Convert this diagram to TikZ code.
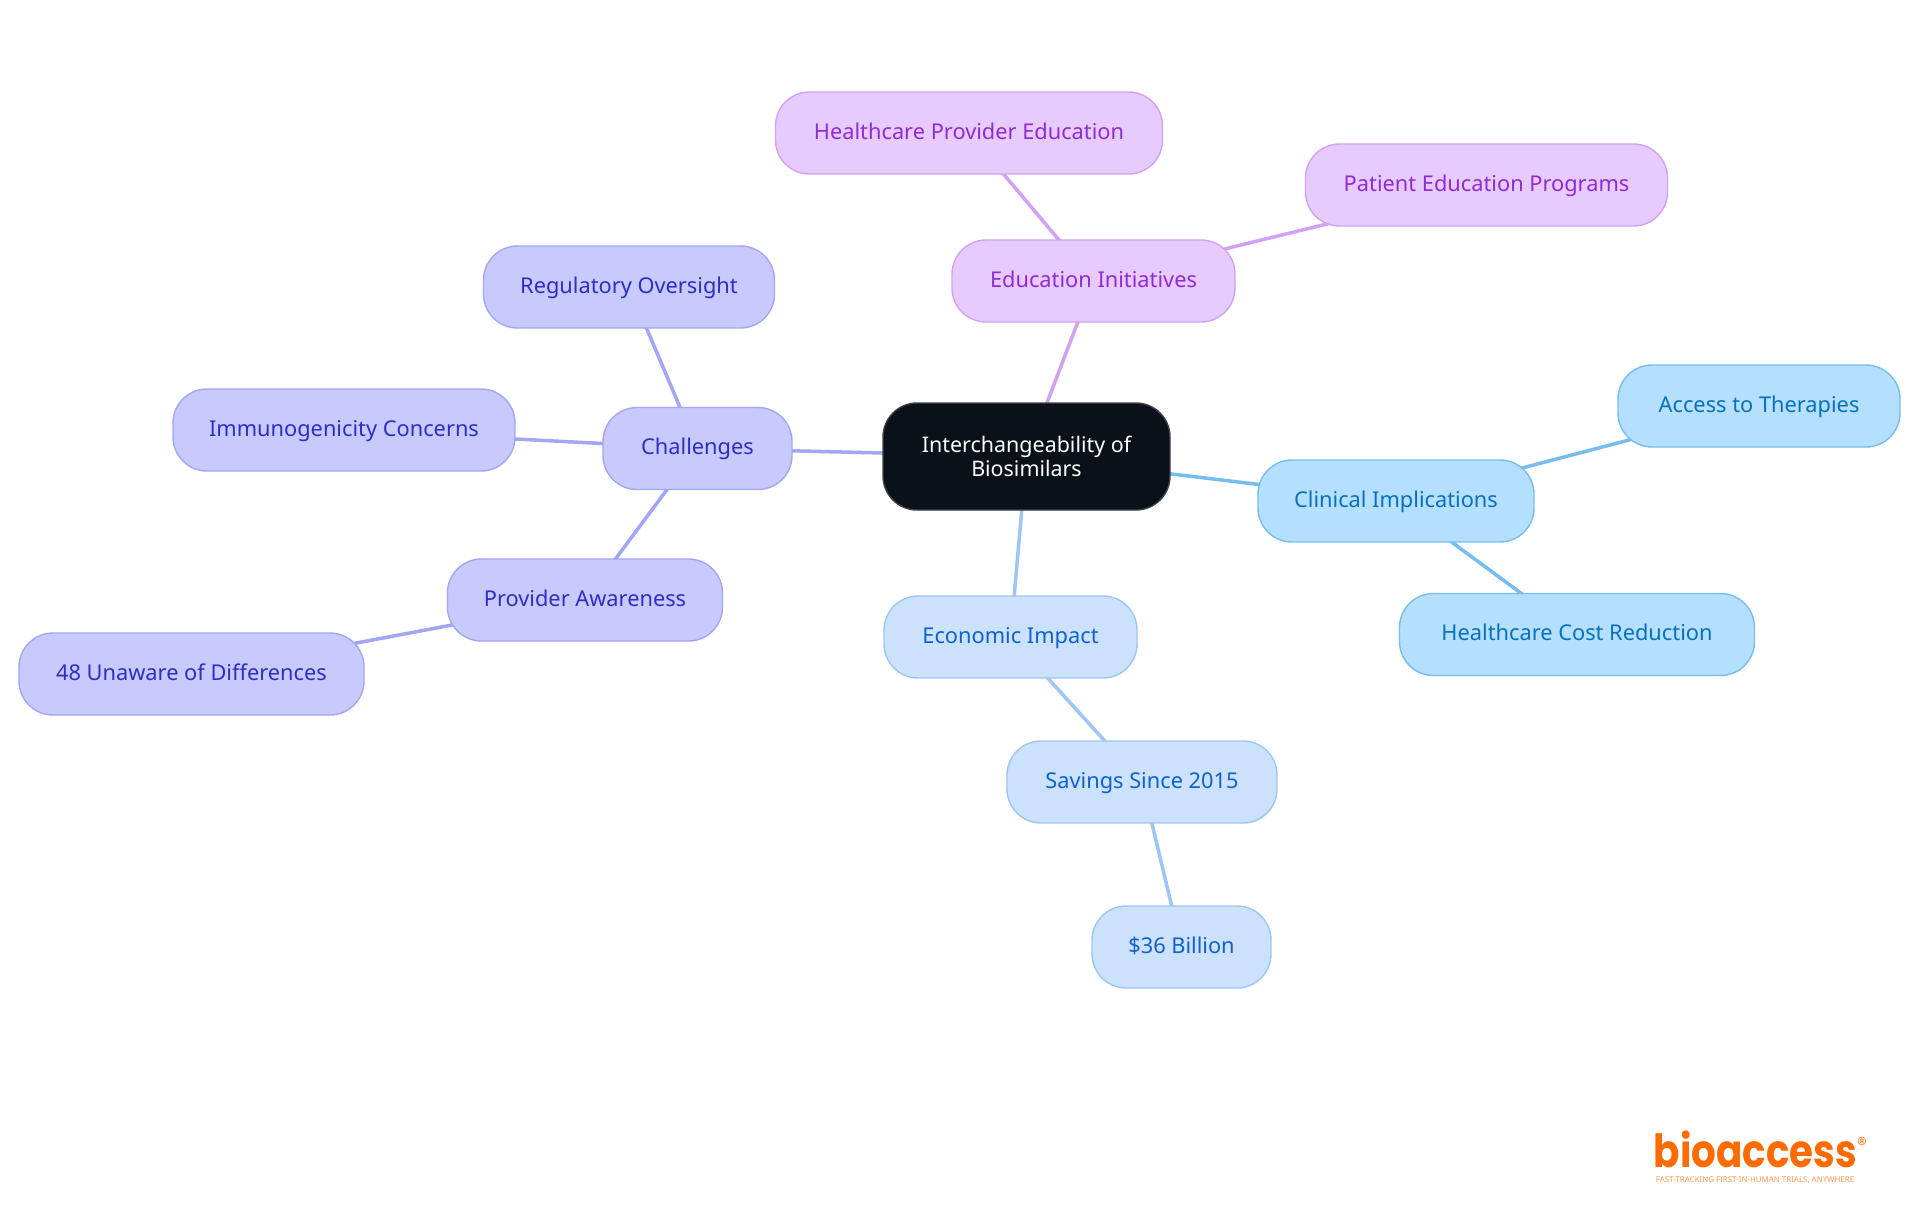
\documentclass[tikz,border=0pt]{standalone}
\usepackage{fontspec}
\setmainfont{Noto Sans}
\newfontfamily\logofont{Poppins}[FakeStretch=0.85]
\usetikzlibrary{backgrounds}

\definecolor{rootfill}{HTML}{0B1119}
\definecolor{violetfill}{HTML}{C8CAFD}
\definecolor{violetline}{HTML}{A3A5F5}
\definecolor{violettext}{HTML}{2F2DC6}
\definecolor{purplefill}{HTML}{E8CBFE}
\definecolor{purpleline}{HTML}{CFA2F3}
\definecolor{purpletext}{HTML}{8F2BD6}
\definecolor{bluefill}{HTML}{CCE2FC}
\definecolor{blueline}{HTML}{9FC6F2}
\definecolor{bluetext}{HTML}{0F62CE}
\definecolor{skyfill}{HTML}{B5DFFE}
\definecolor{skyline}{HTML}{77BDF0}
\definecolor{skytext}{HTML}{0871BE}
\definecolor{logoorange}{HTML}{FF6B00}

\tikzset{
	box/.style={draw, rectangle, rounded corners=0.34cm, line width=0.4pt, minimum height=0.82cm, inner sep=0pt, align=center, font=\fontsize{6.2}{7}\selectfont},
	rootbox/.style={box, fill=rootfill, draw=rootfill!80!white, text=white, minimum height=1.07cm, font=\fontsize{6.1}{6.7}\selectfont},
	leafbox/.style={box, text height=1.7mm, text depth=0.5mm},
	violetbox/.style={leafbox, fill=violetfill, draw=violetline, text=violettext},
	purplebox/.style={leafbox, fill=purplefill, draw=purpleline, text=purpletext},
	bluebox/.style={leafbox, fill=bluefill, draw=blueline, text=bluetext},
	skybox/.style={leafbox, fill=skyfill, draw=skyline, text=skytext},
	link/.style={line width=1pt}
}

\begin{document}
\begin{tikzpicture}
	\useasboundingbox (0,0) rectangle (19.2,-12.15);

	\node[rootbox, minimum width=2.87cm] (L1-00) at (10.265,-4.565) {Interchangeability of\\Biosimilars};

	\node[violetbox, minimum width=1.89cm] (L2-00) at ( 6.975,-4.485) {Challenges};
	\node[purplebox, minimum width=2.83cm] (L2-01) at (10.935,-2.81) {Education Initiatives};
	\node[skybox, minimum width=2.76cm] (L2-02) at (13.96,-5.01) {Clinical Implications};
	\node[bluebox, minimum width=2.53cm] (L2-03) at (10.105,-6.37) {Economic Impact};

	\node[violetbox, minimum width=2.91cm] (L3-00) at ( 6.29,-2.87) {Regulatory Oversight};
	\node[violetbox, minimum width=3.42cm] (L3-01) at ( 3.44,-4.30) {Immunogenicity Concerns};
	\node[violetbox, minimum width=2.75cm] (L3-02) at ( 5.85,-6.00) {Provider Awareness};
	\node[purplebox, minimum width=3.87cm] (L3-03) at ( 9.69,-1.33) {Healthcare Provider Education};
	\node[purplebox, minimum width=3.62cm] (L3-04) at (14.865,-1.85) {Patient Education Programs};
	\node[skybox, minimum width=2.82cm] (L3-05) at (17.59,-4.06) {Access to Therapies};
	\node[skybox, minimum width=3.55cm] (L3-06) at (15.77,-6.345) {Healthcare Cost Reduction};
	\node[bluebox, minimum width=2.70cm] (L3-07) at (11.42,-7.82) {Savings Since 2015};

	\node[violetbox, minimum width=3.45cm] (L4-00) at ( 1.915,-6.74) {48 Unaware of Differences};
	\node[bluebox, minimum width=1.79cm] (L4-01) at (11.815,-9.47) {\$36 Billion};

	\node[text=logoorange, inner sep=0pt, anchor=base west, font=\fontsize{13}{14}\logofont\bfseries] (logo) at (16.53,-11.67) {bioaccess};
	\node[text=logoorange, inner sep=0pt, font=\fontsize{3.2}{4}\selectfont] (logo-r) at (18.62,-11.41) {®};
	\node[text=logoorange!70, inner sep=0pt, font=\fontsize{2.25}{2.5}\selectfont] (logo-tag) at (17.55,-11.80) {FAST-TRACKING FIRST-IN-HUMAN TRIALS, ANYWHERE};

	\begin{pgfonlayer}{background}
		\draw[link, violetline] (L1-00.center) to (L2-00.center);
		\draw[link, purpleline] (L1-00.center) to (L2-01.center);
		\draw[link, skyline] (L1-00.center) to (L2-02.center);
		\draw[link, blueline] (L1-00.center) to (L2-03.center);

		\draw[link, violetline] (L2-00.center) to (L3-00.center);
		\draw[link, violetline] (L2-00.center) to (L3-01.center);
		\draw[link, violetline] (L2-00.center) to (L3-02.center);
		\draw[link, purpleline] (L2-01.center) to (L3-03.center);
		\draw[link, purpleline] (L2-01.center) to (L3-04.center);
		\draw[link, skyline] (L2-02.center) to (L3-05.center);
		\draw[link, skyline] (L2-02.center) to (L3-06.center);
		\draw[link, blueline] (L2-03.center) to (L3-07.center);

		\draw[link, violetline] (L3-02.center) to (L4-00.center);
		\draw[link, blueline] (L3-07.center) to (L4-01.center);
	\end{pgfonlayer}

\end{tikzpicture}
\end{document}
